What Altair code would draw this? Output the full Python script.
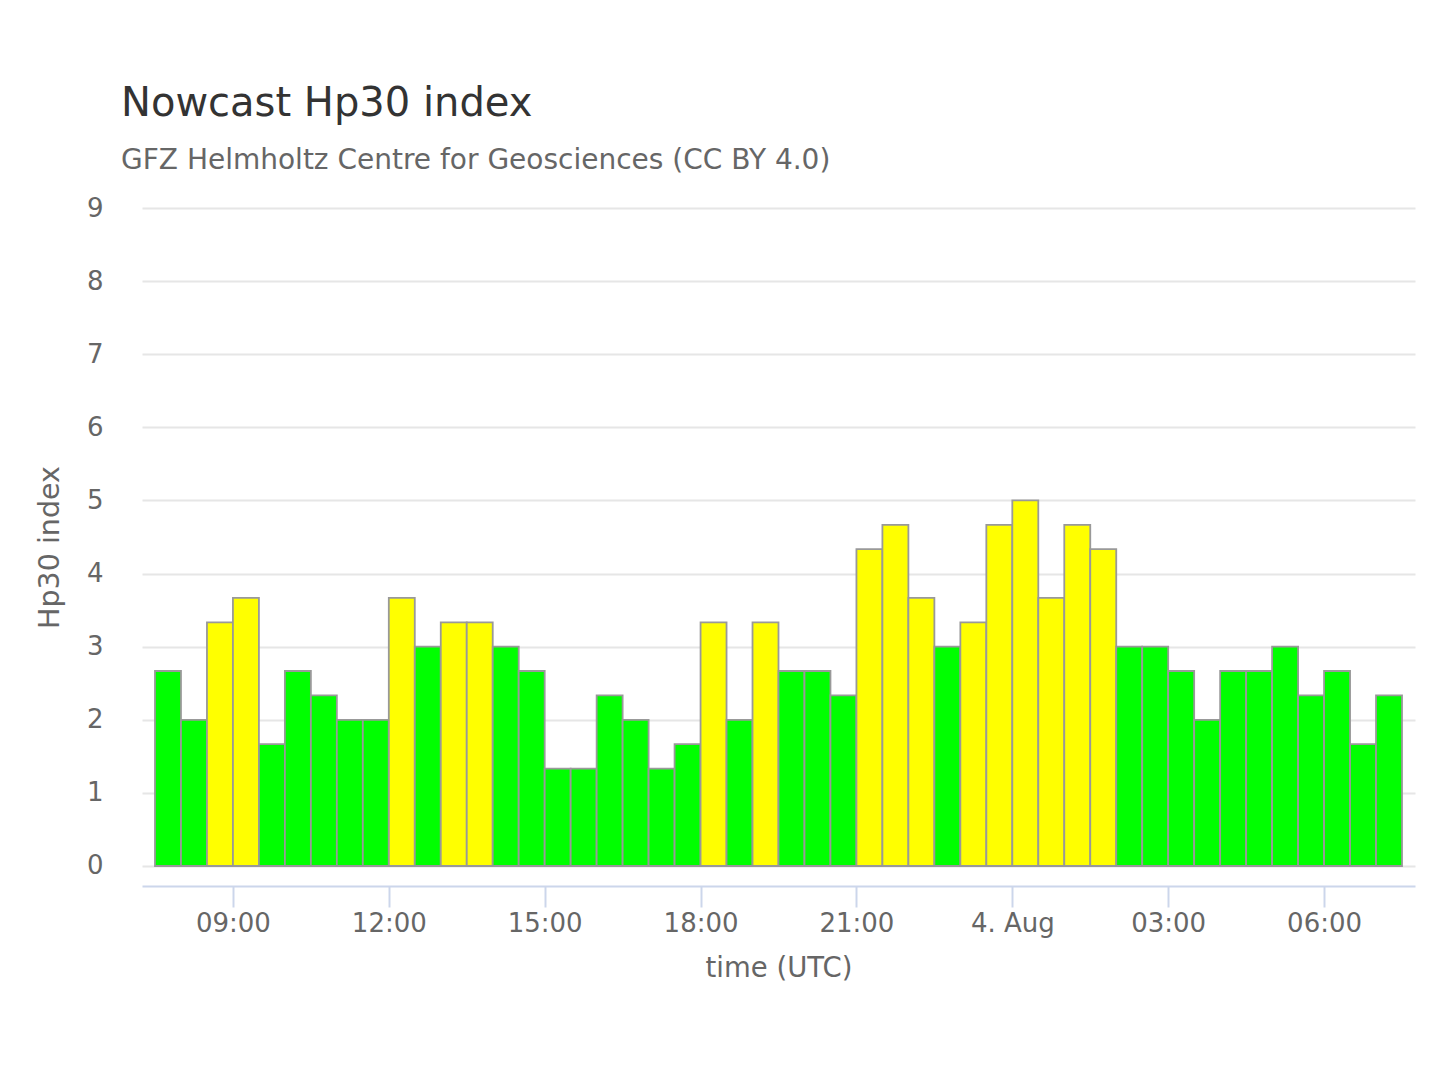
import altair as alt
import pandas as pd

# Hp30 nowcast values, 30-min intervals starting 2024-08-03 07:30 UTC
hp30 = [2.667, 2.0, 3.333, 3.667, 1.667, 2.667, 2.333, 2.0, 2.0, 3.667,
        3.0, 3.333, 3.333, 3.0, 2.667, 1.333, 1.333, 2.333, 2.0, 1.333,
        1.667, 3.333, 2.0, 3.333, 2.667, 2.667, 2.333, 4.333, 4.667, 3.667,
        3.0, 3.333, 4.667, 5.0, 3.667, 4.667, 4.333, 3.0, 3.0, 2.667,
        2.0, 2.667, 2.667, 3.0, 2.333, 2.667, 1.667, 2.333]
start_time = "2024-08-03T07:30:00Z"
y_ticks = [0, 1, 2, 3, 4, 5, 6, 7, 8, 9]
x_tick_hours = [(3, 9), (3, 12), (3, 15), (3, 18), (3, 21), (4, 0), (4, 3), (4, 6)]

starts = pd.date_range(start_time, periods=len(hp30), freq="30min")
df = pd.DataFrame({
    "t0": [s.strftime("%Y-%m-%dT%H:%M:%SZ") for s in starts],
    "t1": [(s + pd.Timedelta(minutes=30)).strftime("%Y-%m-%dT%H:%M:%SZ") for s in starts],
    "hp30": hp30,
})

x_values = [alt.DateTime(year=2024, month=8, date=d, hours=h, utc=True) for d, h in x_tick_hours]

xscale = alt.Scale(type="utc",
                   domain=[alt.DateTime(year=2024, month=8, date=3, hours=7, minutes=15, utc=True),
                           alt.DateTime(year=2024, month=8, date=4, hours=7, minutes=45, utc=True)])
yscale = alt.Scale(domain=[-0.2736, 9], nice=False, zero=False)

base = alt.Chart(df).transform_calculate(
    level="datum.hp30 > 3 ? 'yellow' : 'green'"
)

shadow = base.mark_bar(color="#000000", opacity=0.10, xOffset=2, yOffset=2).encode(
    x=alt.X("t0:T", scale=xscale),
    x2="t1:T",
    y=alt.Y("hp30:Q", scale=yscale),
    y2=alt.datum(0),
)

bars = base.mark_bar(stroke="#999999", strokeWidth=1.8).encode(
    x=alt.X("t0:T", scale=xscale,
            axis=alt.Axis(title="time (UTC)", values=x_values,
                          labelExpr="utcFormat(datum.value, '%H') == '00' ? utcFormat(datum.value, '%-d. %b') : utcFormat(datum.value, '%H:%M')",
                          grid=False, domainColor="#ccd6eb", domainWidth=2,
                          tickColor="#ccd6eb", tickWidth=2, tickSize=21,
                          labelFont="DejaVu Sans", labelFontSize=26, labelColor="#666666",
                          labelPadding=3, titleFont="DejaVu Sans", titleFontSize=27.5,
                          titleFontWeight="normal", titleColor="#666666", titlePadding=18)),
    x2="t1:T",
    y=alt.Y("hp30:Q", scale=yscale,
            axis=alt.Axis(title="Hp30 index", values=y_ticks, format="d", domain=False, ticks=False,
                          gridColor="#e6e6e6", gridWidth=2,
                          labelFont="DejaVu Sans", labelFontSize=26, labelColor="#666666",
                          labelPadding=39, titleFont="DejaVu Sans", titleFontSize=28.5,
                          titleFontWeight="normal", titleColor="#666666", titlePadding=22)),
    y2=alt.datum(0),
    color=alt.Color("level:N", scale=alt.Scale(domain=["green", "yellow"],
                                               range=["#00ff00", "#ffff00"]), legend=None),
)

chart = alt.layer(shadow, bars).properties(
    width=1273, height=678,
    autosize=alt.AutoSizeParams(type="none"),
    padding={"left": 134, "top": 200, "right": 17, "bottom": 186},
    title=alt.TitleParams(
        text="Nowcast Hp30 index",
        subtitle="GFZ Helmholtz Centre for Geosciences (CC BY 4.0)",
        anchor="start", frame="group", dx=-21, offset=20,
        font="DejaVu Sans", fontSize=40, fontWeight="normal", color="#333333",
        subtitleFont="DejaVu Sans", subtitleFontSize=28, subtitleColor="#666666",
        subtitlePadding=23,
    ),
).configure_view(stroke=None)

chart.save("out.html", embed_options={"renderer": "svg", "actions": False})
